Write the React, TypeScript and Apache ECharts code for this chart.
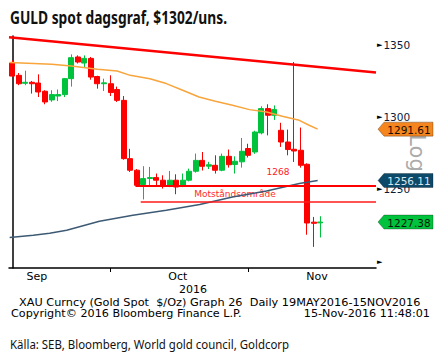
import React, { useEffect, useRef } from 'react';
import * as echarts from 'echarts';

// Trading days shown (Sep 9 – Nov 15 2016) plus empty future slots
const tradingDays = [
  '2016-09-09', '2016-09-12', '2016-09-13', '2016-09-14', '2016-09-15', '2016-09-16',
  '2016-09-19', '2016-09-20', '2016-09-21', '2016-09-22', '2016-09-23', '2016-09-26',
  '2016-09-27', '2016-09-28', '2016-09-29', '2016-09-30',
  '2016-10-03', '2016-10-04', '2016-10-05', '2016-10-06', '2016-10-07', '2016-10-10',
  '2016-10-11', '2016-10-12', '2016-10-13', '2016-10-14', '2016-10-17', '2016-10-18',
  '2016-10-19', '2016-10-20', '2016-10-21', '2016-10-24', '2016-10-25', '2016-10-26',
  '2016-10-27', '2016-10-28', '2016-10-31',
  '2016-11-01', '2016-11-02', '2016-11-03', '2016-11-04', '2016-11-07', '2016-11-08',
  '2016-11-09', '2016-11-10', '2016-11-11', '2016-11-14', '2016-11-15',
];
const futureDays = [
  '2016-11-16', '2016-11-17', '2016-11-18', '2016-11-21', '2016-11-22', '2016-11-23',
  '2016-11-24', '2016-11-25',
];

// [open, close, low, high]
const candles = [
  [1337.3, 1328.3, 1327.8, 1339.2],
  [1328.8, 1323.0, 1322.0, 1330.4],
  [1323.3, 1324.0, 1322.0, 1332.0],
  [1324.0, 1323.0, 1316.2, 1324.9],
  [1323.5, 1317.3, 1313.8, 1329.5],
  [1317.8, 1310.4, 1308.8, 1318.5],
  [1311.8, 1315.5, 1310.5, 1318.5],
  [1314.5, 1315.5, 1311.0, 1319.0],
  [1315.5, 1326.5, 1313.8, 1327.0],
  [1326.5, 1341.0, 1321.0, 1343.3],
  [1341.5, 1338.0, 1337.0, 1342.6],
  [1337.3, 1340.5, 1334.0, 1342.6],
  [1340.5, 1327.6, 1325.8, 1341.5],
  [1328.0, 1323.0, 1319.6, 1328.5],
  [1323.0, 1323.6, 1318.0, 1326.5],
  [1323.0, 1316.9, 1314.5, 1328.8],
  [1319.0, 1311.5, 1310.4, 1321.0],
  [1311.5, 1271.2, 1270.5, 1314.5],
  [1271.2, 1263.2, 1262.0, 1278.0],
  [1263.2, 1252.8, 1252.3, 1264.0],
  [1253.3, 1257.4, 1243.0, 1266.0],
  [1257.5, 1258.1, 1251.6, 1265.5],
  [1258.1, 1256.3, 1251.6, 1260.9],
  [1256.3, 1252.8, 1250.5, 1259.7],
  [1252.8, 1256.3, 1251.5, 1262.7],
  [1256.3, 1251.6, 1246.6, 1260.4],
  [1252.8, 1256.3, 1251.5, 1260.9],
  [1256.3, 1262.5, 1255.5, 1264.3],
  [1262.5, 1270.0, 1261.5, 1274.7],
  [1270.0, 1265.9, 1263.0, 1275.8],
  [1266.0, 1267.0, 1264.0, 1269.0],
  [1266.6, 1263.2, 1260.9, 1273.5],
  [1263.2, 1272.8, 1262.5, 1274.7],
  [1272.8, 1267.0, 1265.0, 1277.5],
  [1267.2, 1269.4, 1260.9, 1272.8],
  [1269.0, 1276.3, 1265.0, 1285.5],
  [1278.2, 1273.5, 1272.0, 1281.5],
  [1275.8, 1289.6, 1274.5, 1290.5],
  [1289.0, 1305.8, 1288.0, 1307.4],
  [1305.8, 1301.2, 1287.3, 1308.8],
  [1301.2, 1305.1, 1298.0, 1308.0],
  [1290.8, 1282.7, 1279.3, 1296.0],
  [1282.7, 1277.5, 1273.5, 1291.3],
  [1277.7, 1276.5, 1268.9, 1338.0],
  [1277.0, 1266.6, 1265.0, 1292.7],
  [1267.3, 1226.7, 1218.6, 1268.0],
  [1227.3, 1226.5, 1210.2, 1230.9],
  [1226.8, 1227.4, 1216.7, 1231.4],
];

// [day index, value] points
const ma50 = [
  [-0.4, 1337.6], [6, 1336.4], [9, 1335.2], [13, 1333.0], [16, 1331.8], [18, 1328.8],
  [21, 1326.5], [23.5, 1323.1], [26, 1318.5], [28.5, 1313.8], [31, 1310.9], [33.6, 1308.1],
  [36.2, 1305.1], [38.8, 1303.5], [41.2, 1300.5], [43.8, 1297.7], [45.3, 1294.3], [46.6, 1291.61],
];
const ma200 = [
  [-0.4, 1216.7], [3.2, 1218.2], [5.7, 1219.6], [8.3, 1221.7], [13.3, 1227.9], [18.4, 1232.1],
  [23.5, 1235.5], [28.6, 1239.5], [33.6, 1244.7], [38.8, 1248.9], [43.8, 1254.0], [46.6, 1256.11],
];
const trendLine = [[-0.5, 1355.2], [55.5, 1330.8]];
const resistTop = [[18.8, 1252.3], [55.5, 1252.3]];
const resistBottom = [[19.6, 1241.3], [55.5, 1241.3]];

const yTickValues = [1200, 1250, 1300, 1350];
const monthLabels = ['Sep', 'Oct', 'Nov'];
const monthLabelPos = [3.75, 25.25, 46.5];
const monthEndPos = [15, 36];

const lastValues = [1291.61, 1256.11, 1227.38];
const tagFill = ['#f5861f', '#0d4a6a', '#00c23c'];
const tagText = ['#1a0d00', '#d6e6f2', '#001a08'];

export default function App() {
  const ref = useRef<HTMLDivElement>(null);
  useEffect(() => {
    const el = ref.current!;
    const chart = echarts.init(el, null, { renderer: 'svg' });
    const allDays = tradingDays.concat(futureDays);
    const n = allDays.length;
    const lineBase = {
      type: 'line',
      xAxisIndex: 1,
      showSymbol: false,
      symbol: 'none',
      silent: true,
    };
    const txt = (id: string, x: number, y: number, text: string, font: string, fill: string, align: string, sx = 1, extra: any = {}) => ({
      type: 'text', id, x, y, scaleX: sx, ...extra,
      style: { x: 0, y: 0, text, font, fill, textAlign: align, textVerticalAlign: 'middle' },
    });
    const footFont = '10px "DejaVu Sans"';
    const staticGraphics: any[] = [
      txt('title', 10, 17, 'GULD spot dagsgraf, $1302/uns.', 'bold 17px "Noto Sans", sans-serif', '#111', 'left', 0.81),
      txt('yr', 193, 289, '2016', '11px "DejaVu Sans"', '#000', 'center'),
      txt('l1268', 278, 172, '1268', '9px "DejaVu Sans"', '#ff2020', 'center'),
      txt('mots', 235, 194, 'Motståndsområde', '9px "DejaVu Sans"', '#ff2a2a', 'center'),
      txt('log', 417, 153, 'Log', '21px "DejaVu Sans"', '#ababab', 'center', 1, { rotation: -Math.PI / 2 }),
      txt('f1', 19, 303, 'XAU Curncy (Gold Spot  $/Oz) Graph 26  Daily 19MAY2016-15NOV2016', footFont, '#000', 'left', 1.13),
      txt('f2', 11, 314, 'Copyright© 2016 Bloomberg Finance L.P.', footFont, '#000', 'left', 1.12),
      txt('f3', 430, 314, '15-Nov-2016 11:48:01', footFont, '#000', 'right', 1.12),
      txt('src', 10, 344, 'Källa: SEB, Bloomberg, World gold council, Goldcorp', '13px "Noto Sans", sans-serif', '#111', 'left', 0.88),
    ];
    const option: any = {
      animation: false,
      backgroundColor: '#ffffff',
      grid: { left: 9, right: 69, top: 36, bottom: 86 },
      xAxis: [
        {
          type: 'category', data: allDays, boundaryGap: true,
          axisLine: { show: true, lineStyle: { color: '#000', width: 1.5 } },
          axisTick: { show: false }, axisLabel: { show: false }, splitLine: { show: false },
        },
        {
          type: 'value', min: -0.5, max: n - 0.5, position: 'bottom',
          axisLine: { show: false }, splitLine: { show: false },
          axisTick: { show: true, customValues: monthEndPos, length: 4, lineStyle: { color: '#000', width: 1 } },
          axisLabel: {
            show: true, customValues: monthLabelPos,
            formatter: (v: number) => monthLabels[monthLabelPos.indexOf(v)] ?? '',
            color: '#000', fontSize: 11, fontFamily: 'DejaVu Sans', margin: 3,
          },
        },
      ],
      yAxis: {
        type: 'value', position: 'right', min: 1195.6, max: 1356, scale: true,
        axisLine: { show: true, lineStyle: { color: '#000', width: 1.5 } },
        splitLine: { show: false }, axisTick: { show: false },
        axisLabel: {
          show: true, customValues: yTickValues, margin: 1,
          formatter: (v: number) => (v === 1200 ? '{m|►}' : '{m|►}{t|' + v + '}'),
          rich: {
            m: { fontSize: 7, color: '#000', fontFamily: 'DejaVu Sans' },
            t: { fontSize: 10.5, color: '#0b1a3a', fontFamily: 'DejaVu Sans', padding: [0, 0, 0, 1] },
          },
        },
      },
      series: [
        {
          type: 'candlestick', xAxisIndex: 0, data: candles, barWidth: 5.5,
          itemStyle: { color: '#00c23c', color0: '#ff0000', borderColor: '#00c23c', borderColor0: '#ff0000', borderWidth: 1 },
          z: 2,
        },
        { ...lineBase, data: ma200, lineStyle: { color: '#3d5a74', width: 1.5 }, z: 3 },
        { ...lineBase, data: ma50, lineStyle: { color: '#f7a53c', width: 1.5 }, z: 3 },
        { ...lineBase, data: trendLine, lineStyle: { color: '#ff0000', width: 2.5 }, z: 4 },
        { ...lineBase, data: resistTop, lineStyle: { color: '#ff0000', width: 2 }, z: 4 },
        { ...lineBase, data: resistBottom, lineStyle: { color: '#ff1a1a', width: 1.5 }, z: 4 },
      ],
      graphic: staticGraphics,
    };
    chart.setOption(option);

    const axisX = chart.convertToPixel({ xAxisIndex: 1 }, n - 0.5) as number;
    const tags: any[] = [];
    lastValues.forEach((v, i) => {
      const y = chart.convertToPixel({ yAxisIndex: 0 }, v) as number;
      const x0 = axisX + 2;
      tags.push({
        type: 'polygon', id: 'tagbg' + i, z: 10,
        shape: { points: [[x0, y], [x0 + 6, y - 7], [x0 + 55, y - 7], [x0 + 55, y + 7], [x0 + 6, y + 7]] },
        style: { fill: tagFill[i], stroke: 'rgba(0,0,0,0.35)', lineWidth: 0.8 },
      });
      tags.push({
        type: 'text', id: 'tagtx' + i, z: 11,
        style: { x: x0 + 31, y: y + 0.5, text: v.toFixed(2), font: '10.5px "DejaVu Sans"', fill: tagText[i], textAlign: 'center', textVerticalAlign: 'middle' },
      });
    });
    chart.setOption({ graphic: staticGraphics.concat(tags) });

    return () => chart.dispose();
  }, []);
  return <div ref={ref} style={{ position: 'fixed', left: 0, top: 0, width: 445, height: 354, background: '#fff' }} />;
}
